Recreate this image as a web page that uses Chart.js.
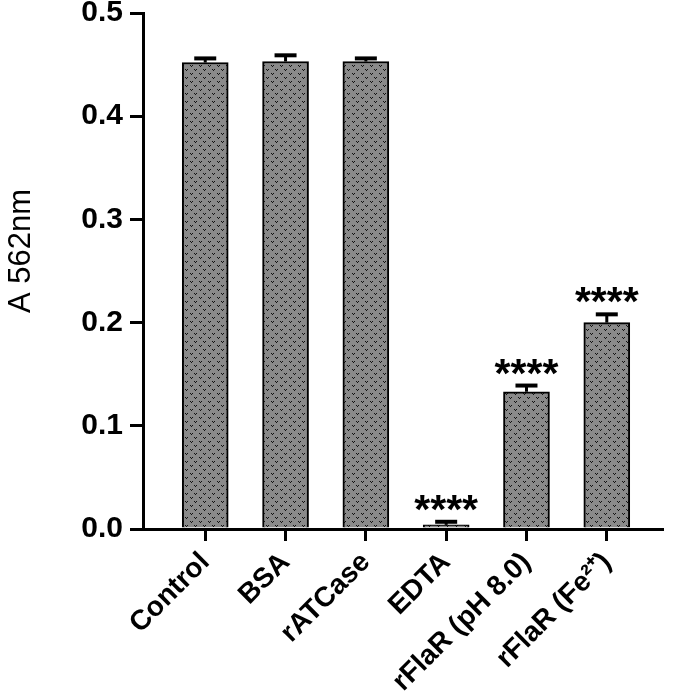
<!DOCTYPE html>
<html>
<head>
<meta charset="utf-8">
<script src="https://cdn.jsdelivr.net/npm/chart.js@4"></script>
<style>
  html, body { margin: 0; padding: 0; background: #fff; }
  #wrap { width: 685px; height: 700px; }
</style>
</head>
<body>
<div id="wrap"><canvas id="barChart" width="685" height="700"></canvas></div>
<script>
// data
const groups = ['Control', 'BSA', 'rATCase', 'EDTA', 'rFlaR (pH 8.0)', 'rFlaR (Fe\u00B2\u207A)'];
const means = [0.452, 0.453, 0.453, 0.004, 0.133, 0.200];
const errors = [0.004, 0.006, 0.003, 0.003, 0.006, 0.008];
const stars = ['', '', '', '****', '****', '****'];
const yTicks = [0, 0.1, 0.2, 0.3, 0.4, 0.5];
const yTitle = 'A 562nm';

// dotted grey fill like the original (small black "v" marks)
function makePattern() {
    const c = document.createElement('canvas');
    c.width = 9; c.height = 8;
    const g = c.getContext('2d');
    g.fillStyle = '#8a8a8a';
    g.fillRect(0, 0, 9, 8);
    g.fillStyle = '#111';
    [[1, 1], [3, 1], [2, 2], [5, 5], [7, 5], [6, 6]].forEach(p => g.fillRect(p[0], p[1], 1, 1));
    return g.createPattern(c, 'repeat');
}

// error bars, significance stars and the y title
const extras = {
    id: 'extras',
    afterDatasetsDraw(chart) {
        const ctx = chart.ctx;
        const x = chart.scales.x, y = chart.scales.y;
        ctx.save();
        ctx.strokeStyle = '#000';
        ctx.fillStyle = '#000';
        means.forEach((m, i) => {
            const px = x.getPixelForValue(i);
            const top = y.getPixelForValue(m);
            const hi = y.getPixelForValue(m + errors[i]);
            ctx.lineWidth = 3;
            ctx.beginPath();
            ctx.moveTo(px, top);
            ctx.lineTo(px, hi);
            ctx.stroke();
            ctx.lineWidth = 4;
            ctx.beginPath();
            ctx.moveTo(px - 11, hi);
            ctx.lineTo(px + 11, hi);
            ctx.stroke();
            if (stars[i]) {
                ctx.font = 'bold 41px Arial, "Liberation Sans"';
                ctx.textAlign = 'center';
                ctx.textBaseline = 'alphabetic';
                ctx.fillText(stars[i], px, hi + 1);
            }
        });
        ctx.translate(21, 251);
        ctx.rotate(-Math.PI / 2);
        ctx.font = '31px Arial, "Liberation Sans"';
        ctx.textAlign = 'center';
        ctx.textBaseline = 'middle';
        ctx.fillText(yTitle, 0, 0);
        ctx.restore();
    }
};

new Chart(document.getElementById('barChart').getContext('2d'), {
    type: 'bar',
    data: {
        datasets: [{
            data: means.map((v, i) => ({ x: i, y: v })),
            backgroundColor: makePattern(),
            borderColor: '#000',
            borderWidth: 2,
            borderSkipped: 'bottom',
            barThickness: 46
        }]
    },
    options: {
        responsive: false,
        animation: false,
        layout: { padding: { top: 13, right: 23, left: 0, bottom: 0 } },
        plugins: { legend: { display: false }, tooltip: { enabled: false } },
        scales: {
            x: {
                type: 'linear',
                offset: false,
                min: -0.775,
                max: 5.6875,
                afterFit(s) { s.height = 171; s.paddingLeft = 0; s.paddingRight = 0; },
                afterBuildTicks(s) { s.ticks = groups.map((g, i) => ({ value: i })); },
                grid: { offset: false, drawOnChartArea: false, drawTicks: true, tickLength: 12, color: '#000', lineWidth: 3 },
                border: { color: '#000', width: 3 },
                ticks: {
                    autoSkip: false,
                    maxRotation: 45,
                    minRotation: 45,
                    padding: 5,
                    color: '#000',
                    font: { family: 'Arial, "Liberation Sans"', size: 28, weight: 'bold' },
                    callback: v => groups[v]
                }
            },
            y: {
                min: 0,
                max: 0.5,
                afterFit(s) { s.width = 143; s.paddingTop = 0; s.paddingBottom = 0; },
                afterBuildTicks(s) { s.ticks = yTicks.map(v => ({ value: v })); },
                grid: { drawOnChartArea: false, drawTicks: true, tickLength: 13, color: '#000', lineWidth: 3 },
                border: { color: '#000', width: 3 },
                ticks: {
                    padding: 7,
                    color: '#000',
                    font: { family: 'Arial, "Liberation Sans"', size: 30, weight: 'bold' },
                    callback: v => v.toFixed(1)
                }
            }
        }
    },
    plugins: [extras]
});
</script>
</body>
</html>
